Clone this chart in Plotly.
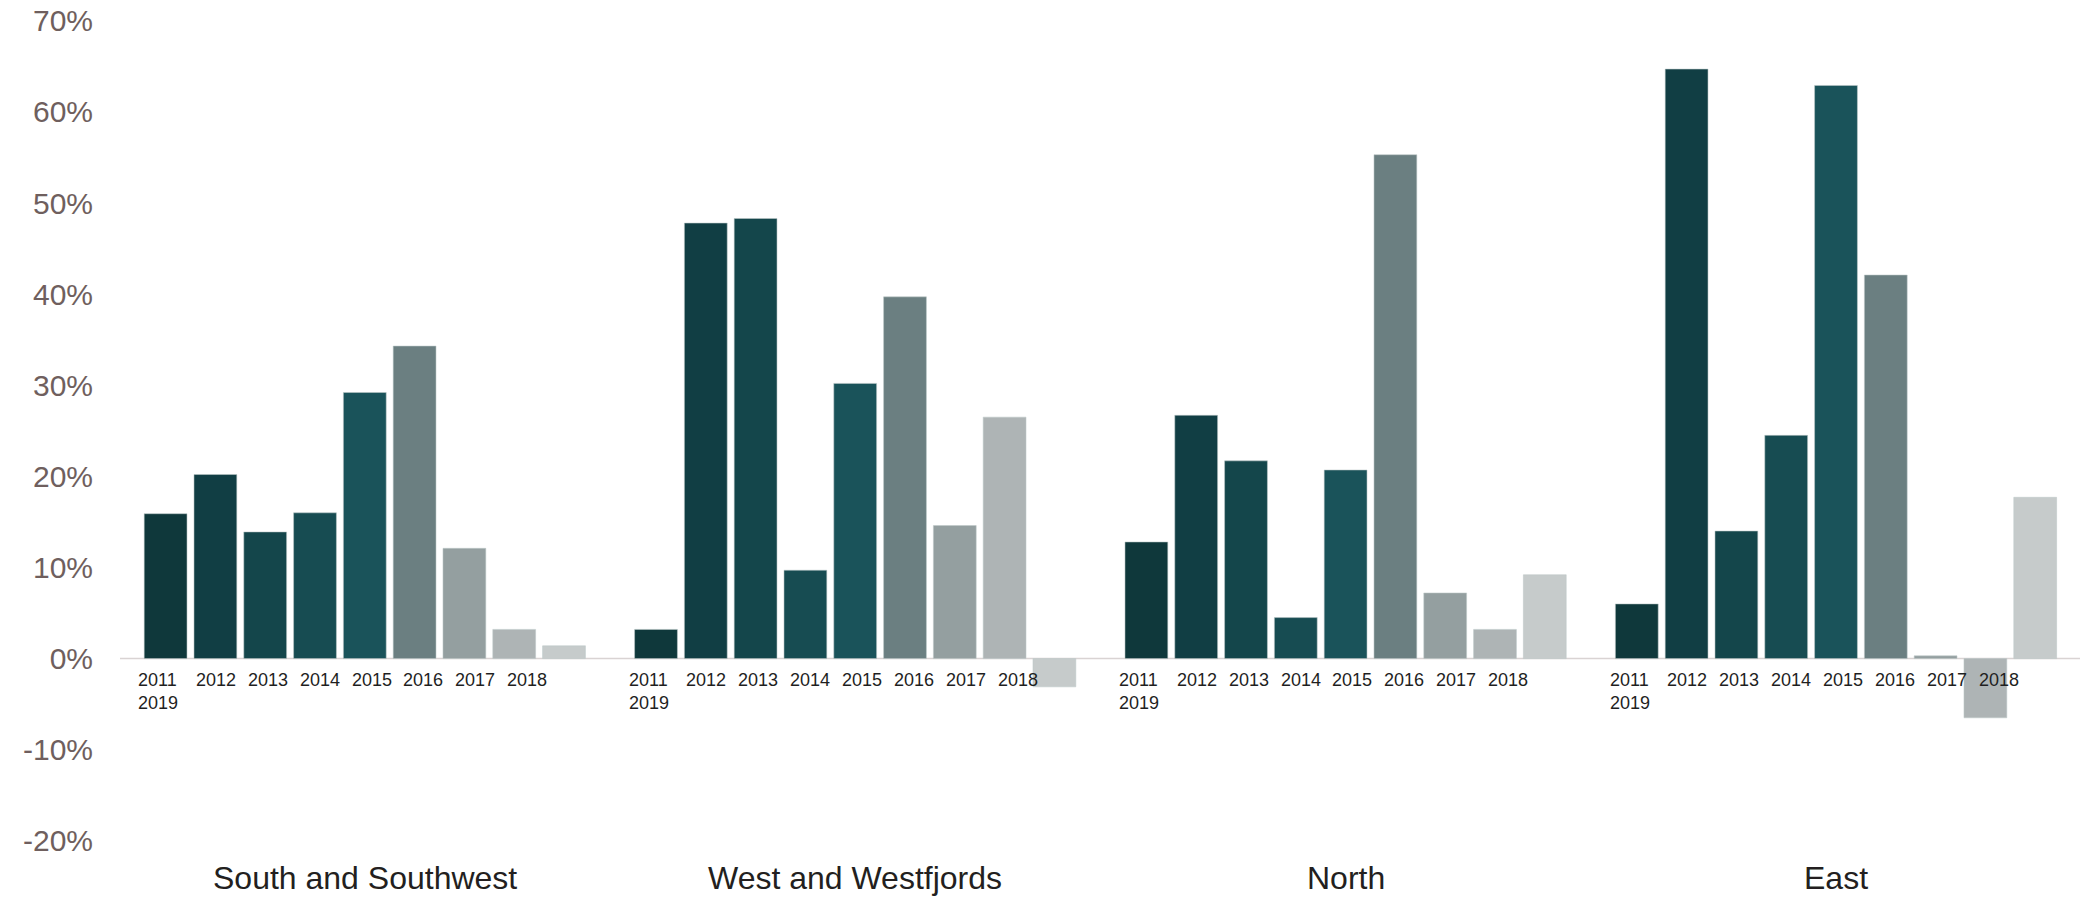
import plotly.graph_objects as go

# ---------------- data ----------------
regions = ["South and Southwest", "West and Westfjords", "North", "East"]
years = ["2011", "2012", "2013", "2014", "2015", "2016", "2017", "2018", "2019"]

south = [15.9, 20.2, 13.9, 16.0, 29.2, 34.3, 12.1, 3.2, 1.4]
west = [3.2, 47.8, 48.3, 9.7, 30.2, 39.7, 14.6, 26.5, -3.1]
north = [12.8, 26.7, 21.7, 4.5, 20.7, 55.3, 7.2, 3.2, 9.2]
east = [6.0, 64.7, 14.0, 24.5, 62.9, 42.1, 0.3, -6.5, 17.7]
series = [south, west, north, east]

ytick_vals = [-20, -10, 0, 10, 20, 30, 40, 50, 60, 70]
ytick_text = ["-20%", "-10%", "0%", "10%", "20%", "30%", "40%", "50%", "60%", "70%"]

# ---------------- style ----------------
W, H = 2080, 898
FONT = "Liberation Sans, Arial, Helvetica, sans-serif"
year_colors = ["#0f383b", "#113e44", "#14464b", "#174c52", "#1a535a",
               "#6b7f81", "#949fa0", "#aeb4b5", "#c6cbcb"]
GROUP_START = 140.7      # px, left edge of first group's slot area
GROUP_STEP = 490.4       # px between group starts
GROUP_WIDTH = 448.2      # px, 9 slots
LABEL_DRIFT = 2.1
LABEL_OFF0 = 0.5

fig = go.Figure()

layout_axes = {}
for g, vals in enumerate(series):
    xa = "x" if g == 0 else f"x{g+1}"
    fig.add_trace(go.Bar(
        x=years, y=vals, xaxis=xa, yaxis="y",
        marker=dict(color=year_colors,
                    line=dict(color="rgba(190,200,200,0.55)", width=1)),
        showlegend=False, hoverinfo="x+y",
    ))
    x0 = (GROUP_START + GROUP_STEP * g) / W
    x1 = (GROUP_START + GROUP_STEP * g + GROUP_WIDTH) / W
    key = "xaxis" if g == 0 else f"xaxis{g+1}"
    layout_axes[key] = dict(domain=[x0, x1], anchor="y", type="category",
                            categoryorder="array", categoryarray=years,
                            range=[-0.5, 8.5], showticklabels=False,
                            showgrid=False, zeroline=False, showline=False,
                            ticks="", automargin=False)

fig.update_layout(**layout_axes)

LABEL_FONT = dict(family=FONT, size=18, color="#1f1f1f")
ann = []
for g, name in enumerate(regions):
    xr = "x" if g == 0 else f"x{g+1}"
    # first label, with last year wrapped beneath
    ann.append(dict(xref=xr, yref="y", x=0, y=0, text=f"{years[0]}<br>{years[-1]}",
                    showarrow=False, xanchor="center", yanchor="top", align="left",
                    xshift=-7.3, yshift=-9, font=LABEL_FONT))
    for k in range(1, len(years) - 1):
        ann.append(dict(xref=xr, yref="y", x=k, y=0, text=years[k],
                        showarrow=False, xanchor="center", yanchor="top",
                        xshift=LABEL_OFF0 + LABEL_DRIFT * (k - 1), yshift=-9,
                        font=LABEL_FONT))
    ann.append(dict(xref=f"{xr} domain", yref="paper", x=0.5, y=(H - 878) / H,
                    text=name, showarrow=False, xanchor="center", yanchor="middle",
                    font=dict(family=FONT, size=32, color="#231f20")))

fig.update_layout(
    width=W, height=H,
    margin=dict(l=0, r=0, t=0, b=0, autoexpand=False),
    paper_bgcolor="white", plot_bgcolor="white",
    bargap=0.14,
    yaxis=dict(domain=[(H - 840.8) / H, (H - 20.8) / H], range=[-20, 70],
               anchor="free", position=93 / W, automargin=False,
               tickvals=ytick_vals, ticktext=ytick_text, ticks="",
               showgrid=False, zeroline=False, showline=False,
               tickfont=dict(family=FONT, size=30, color="#6f5f5e")),
    shapes=[dict(type="line", xref="paper", yref="y", x0=120 / W, x1=1, y0=0, y1=0,
                 line=dict(color="#d9d3d3", width=1.5), layer="below")],
    annotations=ann,
    font=dict(family=FONT),
)

fig.write_html("out.html")
